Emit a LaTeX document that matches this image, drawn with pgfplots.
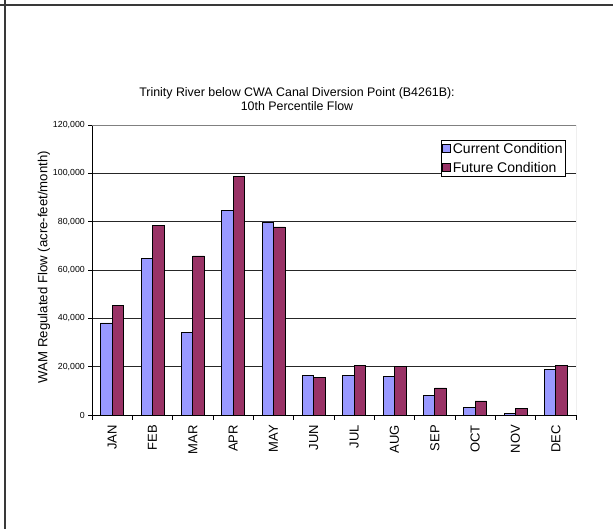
\documentclass[border=0pt]{standalone}
\usepackage{pgfplots}
\pgfplotsset{compat=1.18}
\usepackage{fontspec}
\setmainfont{Liberation Sans}
\definecolor{cur}{HTML}{9999FF}
\definecolor{fut}{HTML}{993366}
\begin{document}
\begin{tikzpicture}
\useasboundingbox (0pt,0pt) rectangle (613pt,529pt);
\draw[gray!45!black, line width=1.3pt] (0pt,524pt) -- (613pt,524pt);
\draw[gray!45!black, line width=1.3pt] (5pt,0pt) -- (5pt,529pt);
\node[align=center, font=\fontsize{12.4}{14}\selectfont] at (297pt,430pt) {Trinity River below CWA Canal Diversion Point (B4261B):\\10th Percentile Flow};
\begin{axis}[
  at={(92pt,114pt)}, anchor=south west,
  scale only axis, width=484pt, height=290pt,
  ybar=0pt, bar width=11.5pt,
  xmin=-0.5, xmax=11.5, ymin=0, ymax=120000,
  axis x line*=bottom, axis y line*=left,
  axis line style={black, line width=0.8pt},
  xtick={0,...,11},
  xticklabels={JAN,FEB,MAR,APR,MAY,JUN,JUL,AUG,SEP,OCT,NOV,DEC},
  major x tick style={draw=none},
  minor xtick={-0.5,0.5,...,11.5},
  minor tick length=5pt,
  minor x tick style={black, line width=0.8pt},
  tick align=outside,
  xticklabel style={yshift=-6pt, rotate=90, anchor=east, inner sep=0pt, font=\fontsize{13}{15}\selectfont},
  ytick={0,20000,40000,60000,80000,100000,120000},
  yticklabels={0,{20,000},{40,000},{60,000},{80,000},{100,000},{120,000}},
  major tick length=4pt,
  y tick style={black, line width=0.8pt},
  scaled y ticks=false,
  yticklabel style={font=\fontsize{8.8}{10}\selectfont, inner sep=0pt, xshift=-3pt},
  ymajorgrids, grid style={black!85, line width=0.8pt},
  ylabel={WAM Regulated Flow (acre-feet/month)},
  ylabel style={at={(axis description cs:-0.099,0.51)}, anchor=center, font=\fontsize{13.2}{15}\selectfont},
  legend style={at={(0.721,0.948)}, anchor=north west, draw=black, fill=white, font=\fontsize{14}{16}\selectfont, inner sep=1pt, row sep=3pt, cells={anchor=west}},
  legend image code/.code={\draw[#1, draw=black] (0pt,-3.5pt) rectangle (8pt,4.5pt);},
]
\addplot[fill=cur, draw=black, line width=0.7pt] coordinates {(0,38100) (1,64900) (2,34100) (3,84800) (4,79900) (5,16300) (6,16300) (7,15900) (8,8000) (9,3200) (10,800) (11,18900)};
\addplot[fill=fut, draw=black, line width=0.7pt] coordinates {(0,45400) (1,78400) (2,65800) (3,98600) (4,77800) (5,15700) (6,20500) (7,20100) (8,11200) (9,5800) (10,2800) (11,20500)};
\legend{Current Condition, Future Condition}
\draw[gray, line width=0.8pt] (rel axis cs:0,1) -- (rel axis cs:1,1) -- (rel axis cs:1,0);
\end{axis}
\end{tikzpicture}
\end{document}
